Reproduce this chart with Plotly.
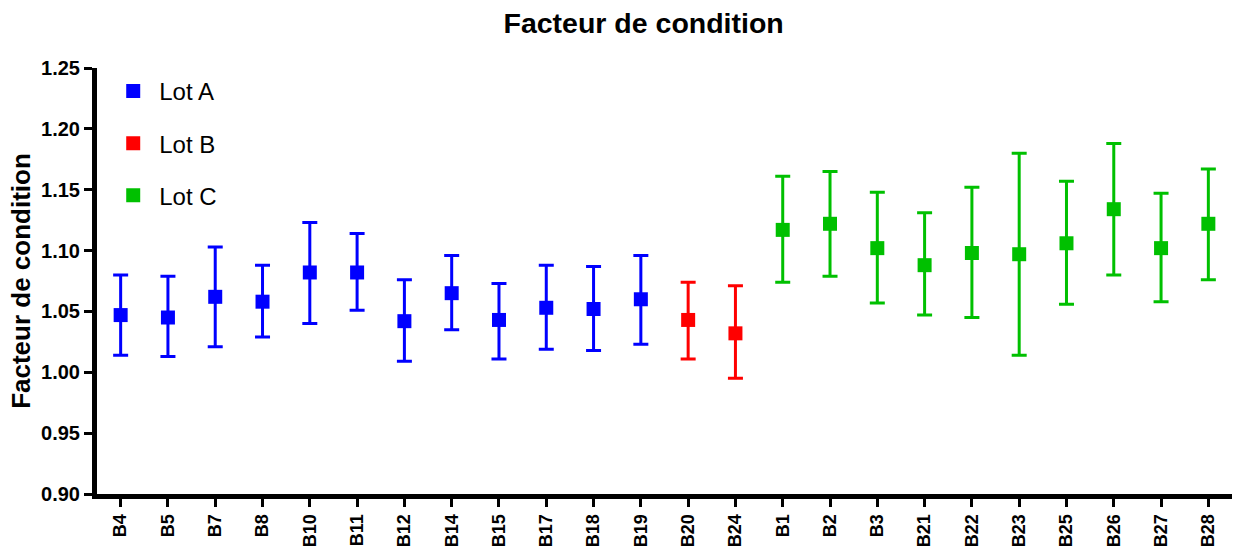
import plotly.graph_objects as go

lot_a_names = ["B4", "B5", "B7", "B8", "B10", "B11", "B12", "B14", "B15", "B17", "B18", "B19"]
lot_a_mean = [1.047, 1.045, 1.062, 1.058, 1.082, 1.082, 1.042, 1.065, 1.043, 1.053, 1.052, 1.060]
lot_a_high = [1.080, 1.079, 1.103, 1.088, 1.123, 1.114, 1.076, 1.096, 1.073, 1.088, 1.087, 1.096]
lot_a_low = [1.014, 1.013, 1.021, 1.029, 1.040, 1.051, 1.009, 1.035, 1.011, 1.019, 1.018, 1.023]

lot_b_names = ["B20", "B24"]
lot_b_mean = [1.043, 1.032]
lot_b_high = [1.074, 1.071]
lot_b_low = [1.011, 0.995]

lot_c_names = ["B1", "B2", "B3", "B21", "B22", "B23", "B25", "B26", "B27", "B28"]
lot_c_mean = [1.117, 1.122, 1.102, 1.088, 1.098, 1.097, 1.106, 1.134, 1.102, 1.122]
lot_c_high = [1.161, 1.165, 1.148, 1.131, 1.152, 1.180, 1.157, 1.188, 1.147, 1.167]
lot_c_low = [1.074, 1.079, 1.057, 1.047, 1.045, 1.014, 1.056, 1.080, 1.058, 1.076]

y_ticks = [0.90, 0.95, 1.00, 1.05, 1.10, 1.15, 1.20, 1.25]

FONT = "Liberation Sans, Arial, sans-serif"

fig = go.Figure()
series = [
    ("Lot A", lot_a_names, lot_a_mean, lot_a_high, lot_a_low, "#0000FF"),
    ("Lot B", lot_b_names, lot_b_mean, lot_b_high, lot_b_low, "#FF0000"),
    ("Lot C", lot_c_names, lot_c_mean, lot_c_high, lot_c_low, "#00C000"),
]
for i, (name, xs, m, hi, lo, col) in enumerate(series):
    fig.add_trace(go.Scatter(
        x=xs, y=m, name=name, mode="markers",
        legendgroup=name,
        marker=dict(symbol="square", size=14, color=col),
        error_y=dict(type="data", symmetric=False,
                     array=[h - v for h, v in zip(hi, m)],
                     arrayminus=[v - l for v, l in zip(m, lo)],
                     color=col, thickness=3, width=7.5),
    ))

categories = lot_a_names + lot_b_names + lot_c_names

fig.update_layout(
    width=1233, height=552,
    margin=dict(l=97, r=1, t=68, b=58),
    paper_bgcolor="white", plot_bgcolor="white",
    font=dict(family=FONT, color="black"),
    title=dict(text="Facteur de condition", x=0.522, xanchor="center", y=0.959, yanchor="middle",
               font=dict(size=28.5, family=FONT, weight="bold", color="black")),
    showlegend=True,
    legend=dict(x=0.009, y=0.998, xanchor="left", yanchor="top",
                font=dict(size=24, family=FONT, color="black"),
                tracegroupgap=18, itemwidth=42, bgcolor="rgba(0,0,0,0)"),
    xaxis=dict(type="category", categoryorder="array", categoryarray=categories,
               range=[-0.5, len(categories) - 0.5], automargin=False,
               showline=True, linecolor="black", linewidth=5,
               ticks="outside", ticklen=8, tickwidth=3, tickcolor="black",
               tickangle=-90, showgrid=False, zeroline=False,
               tickfont=dict(size=18, family=FONT, weight="bold", color="black")),
    yaxis=dict(range=[0.90, 1.25], tickvals=y_ticks, automargin=False,
               ticktext=[f"{v:.2f}" for v in y_ticks],
               showline=True, linecolor="black", linewidth=5,
               ticks="outside", ticklen=8, tickwidth=3, tickcolor="black",
               showgrid=False, zeroline=False,
               tickfont=dict(size=20, family=FONT, weight="bold", color="black"),
               title=dict(text="Facteur de condition", standoff=4,
                          font=dict(size=26, family=FONT, weight="bold", color="black"))),
)

fig.write_html("out.html")
